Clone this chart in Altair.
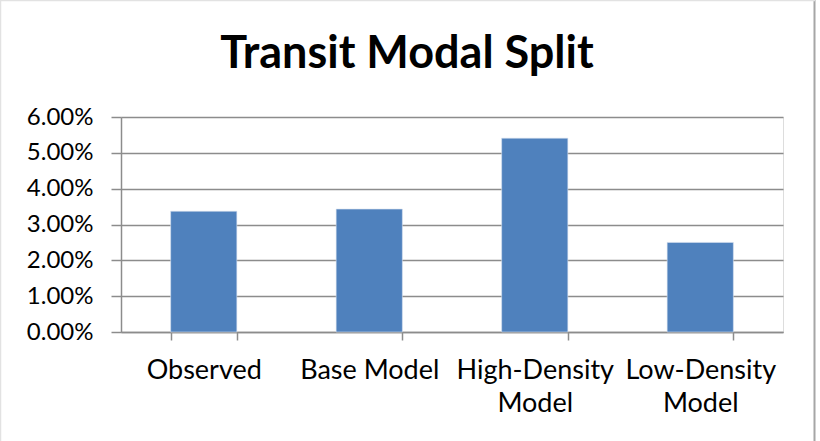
import altair as alt
import pandas as pd

categories = ["Observed", "Base Model", "High-Density\nModel", "Low-Density\nModel"]
values = [0.0337, 0.0343, 0.0541, 0.0250]
y_ticks = [0.0, 0.01, 0.02, 0.03, 0.04, 0.05, 0.06]

df = pd.DataFrame({"category": categories, "value": values})

GRID = "#8c8c8c"
FONT = "Lato"

bars = alt.Chart(df).mark_bar(color="#4F81BD", stroke="#d6e1ef", strokeWidth=0.6).encode(
    x=alt.X(
        "category:N",
        sort=categories,
        title=None,
        scale=alt.Scale(paddingInner=0.6, paddingOuter=0.3),
        axis=alt.Axis(
            tickBand="extent",
            labelAngle=0,
            labelExpr="split(datum.label, '\\n')",
            labelFont=FONT,
            labelFontSize=27,
            labelColor="#000000",
            labelPadding=17,
            labelLineHeight=33,
            domainColor=GRID,
            domainWidth=1.5,
            tickColor=GRID,
            tickWidth=1.5,
            tickSize=8,
            grid=False,
        ),
    ),
    y=alt.Y(
        "value:Q",
        title=None,
        scale=alt.Scale(domain=[0, 0.06], nice=False, zero=True),
        axis=alt.Axis(
            values=y_ticks,
            format=".2%",
            labelFont=FONT,
            labelFontSize=24,
            labelColor="#000000",
            labelPadding=18,
            domainColor=GRID,
            domainWidth=1.5,
            tickColor=GRID,
            tickWidth=1.5,
            tickSize=10,
            gridColor=GRID,
            gridWidth=1.5,
        ),
    ),
)

frame_df = pd.DataFrame({"k": [0]})
right_border = alt.Chart(frame_df).mark_rule(color="#a6a6a6", strokeWidth=2).encode(
    x=alt.value(693.5), y=alt.value(-117), y2=alt.value(324)
)
top_border = alt.Chart(frame_df).mark_rule(color="#e2e2e2", strokeWidth=1.5).encode(
    x=alt.value(-121), x2=alt.value(694), y=alt.value(-116.5)
)
left_border = alt.Chart(frame_df).mark_rule(color="#e2e2e2", strokeWidth=1.5).encode(
    x=alt.value(-120.5), y=alt.value(-117), y2=alt.value(324)
)

chart = (
    alt.layer(bars, right_border, top_border, left_border)
    .properties(
        width=662,
        height=215,
        padding={"left": 121, "top": 117, "right": 37, "bottom": 109},
        autosize=alt.AutoSizeParams(type="none"),
        title=alt.TitleParams(
            "Transit Modal Split",
            font=FONT,
            fontSize=45,
            fontWeight="bold",
            color="#000000",
            anchor="middle",
            frame="group",
            baseline="alphabetic",
            offset=-114,
            dx=-45,
        ),
    )
    .configure_view(stroke=None)
    .configure(background="white")
)

chart.save("out.html", embed_options={"renderer": "svg", "actions": False})
